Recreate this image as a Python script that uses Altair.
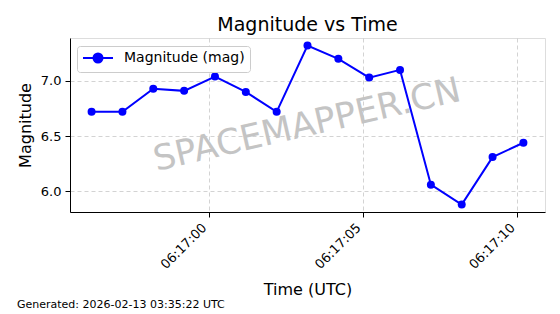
import altair as alt
import pandas as pd

# ---- data ----
times = [
    "2026-02-13T06:16:56.200Z", "2026-02-13T06:16:57.200Z", "2026-02-13T06:16:58.200Z",
    "2026-02-13T06:16:59.200Z", "2026-02-13T06:17:00.200Z", "2026-02-13T06:17:01.200Z",
    "2026-02-13T06:17:02.200Z", "2026-02-13T06:17:03.200Z", "2026-02-13T06:17:04.200Z",
    "2026-02-13T06:17:05.200Z", "2026-02-13T06:17:06.200Z", "2026-02-13T06:17:07.200Z",
    "2026-02-13T06:17:08.200Z", "2026-02-13T06:17:09.200Z", "2026-02-13T06:17:10.200Z",
]
magnitudes = [6.72, 6.72, 6.93, 6.91, 7.04, 6.90, 6.72, 7.32, 7.20, 7.03, 7.10, 6.06, 5.88, 6.31, 6.44]
series_name = "Magnitude (mag)"
y_ticks = [6.0, 6.5, 7.0]
x_tick_seconds = [(17, 0), (17, 5), (17, 10)]
title_text = "Magnitude vs Time"
x_title = "Time (UTC)"
y_title = "Magnitude"
watermark = "SPACEMAPPER.CN"
footer = "Generated: 2026-02-13 03:35:22 UTC"

FONT = "DejaVu Sans"
BLUE = "#0000ff"

df = pd.DataFrame({"time": times, "mag": magnitudes, "series": [series_name] * len(times)})


def utc(m, s, ms=0):
    return alt.DateTime(year=2026, month=2, date=13, hours=6, minutes=m, seconds=s,
                        milliseconds=ms, utc=True)


common_axis = dict(
    labelFont=FONT,
    titleFont=FONT,
    labelFontSize=13,
    labelColor="#000000",
    titleColor="#000000",
    titleFontWeight="normal",
    titleFontSize=16,
    domainColor="#000000",
    tickColor="#000000",
    tickSize=5,
    grid=True,
    gridColor="#c8c8c8",
    gridDash=[4, 3],
    gridWidth=0.8,
)

x_enc = alt.X(
    "time:T",
    scale=alt.Scale(type="utc", domain=[utc(16, 55, 500), utc(17, 10, 900)]),
    axis=alt.Axis(
        values=[utc(m, s) for m, s in x_tick_seconds],
        format="%H:%M:%S",
        labelAngle=315,
        labelAlign="right",
        labelBaseline="top",
        labelOffset=-9,
        labelPadding=4,
        title=x_title,
        titleX=237.5,
        titleY=82,
        titleBaseline="alphabetic",
        **common_axis,
    ),
)
y_enc = alt.Y(
    "mag:Q",
    scale=alt.Scale(domain=[5.8125, 7.389], nice=False, zero=False),
    axis=alt.Axis(
        values=y_ticks,
        format=".1f",
        labelPadding=4,
        title=y_title,
        titleX=-45,
        titleY=87,
        titleAngle=270,
        titleBaseline="middle",
        titleAlign="center",
        **common_axis,
    ),
)

base = alt.Chart(df)

line = base.mark_line(color=BLUE, strokeWidth=2).encode(x=x_enc, y=y_enc)

legend_path = "M-1,0L4,0M2.25,0A0.75,0.75,0,1,1,0.75,0A0.75,0.75,0,1,1,2.25,0Z"

points = base.mark_point(filled=True, size=64, opacity=1).encode(
    x=x_enc,
    y=y_enc,
    color=alt.Color(
        "series:N",
        scale=alt.Scale(domain=[series_name], range=[BLUE]),
        legend=alt.Legend(
            title=None,
            orient="none",
            legendX=7,
            legendY=8,
            padding=5,
            symbolType=legend_path,
            symbolSize=144,
            symbolFillColor=BLUE,
            symbolStrokeColor=BLUE,
            symbolStrokeWidth=2,
            symbolOpacity=1,
            labelOffset=28,
            labelFontSize=14,
            labelFont=FONT,
            labelColor="#000000",
            strokeColor="#cccccc",
            fillColor="#ffffff",
            cornerRadius=3,
        ),
    ),
)

wm = alt.Chart(pd.DataFrame({"t": [watermark]})).mark_text(
    font=FONT, fontSize=35, color="#c4c4c4", angle=347, align="center", baseline="middle"
).encode(text="t:N", x=alt.value(237), y=alt.value(87))

ttl = alt.Chart(pd.DataFrame({"t": [title_text]})).mark_text(
    font=FONT, fontSize=19, color="#000000", align="center", baseline="alphabetic"
).encode(text="t:N", x=alt.value(237.5), y=alt.value(-7))

foot = alt.Chart(pd.DataFrame({"t": [footer]})).mark_text(
    font=FONT, fontSize=11, color="#000000", align="left", baseline="alphabetic"
).encode(text="t:N", x=alt.value(-53), y=alt.value(270))

chart = (
    alt.layer(wm, line, points, ttl, foot)
    .properties(
        width=475,
        height=174,
        autosize=alt.AutoSizeParams(type="none"),
        padding={"left": 70, "top": 38, "right": 15, "bottom": 102},
    )
    .configure_view(stroke="#000000", strokeWidth=1)
    .configure(background="#ffffff")
)

chart.save("out.html", embed_options={"renderer": "svg", "actions": False})
